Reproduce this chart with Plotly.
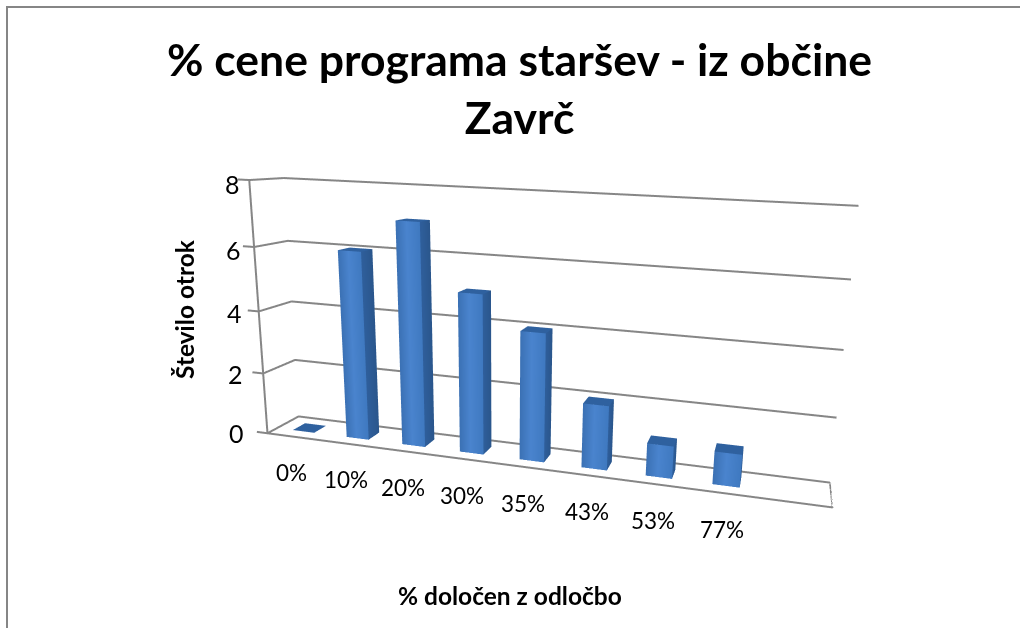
import plotly.graph_objects as go

categories = ["0%", "10%", "20%", "30%", "35%", "43%", "53%", "77%"]
counts = [0, 6, 7, 5, 4, 2, 1, 1]
value_ticks = [0, 2, 4, 6, 8]
BAR_W = 0.4
XR = (-0.25, 9.0)
YR = (0.0, 1.0)
ZR = (0.0, 8.0)
DOM0 = 0.2
eye = [0.398, -1.1469, 0.3027]
center = [0.1091, 0.1328, 0.0061]
roll = -0.0335
ay = 0.0893
az = 0.4454

GRID = "#868686"
FL, FC, FR = "#3B71B4", "#4A84CE", "#3F79C0"
SL, SR = "#2F5F9C", "#2A568C"
TOP = "#2F619F"
fig = go.Figure()

def line(xs, ys, zs):
    fig.add_trace(go.Scatter3d(x=xs, y=ys, z=zs, mode="lines", line=dict(color=GRID, width=4),
                               hoverinfo="skip", showlegend=False))

for t in value_ticks:
    line([-0.2, 0, 0, 9], [0, 0, 1, 1], [t, t, t, t])
line([0, 0], [0, 0], [0, 8])
line([0, 9, 9], [0, 0, 1], [0, 0, 0])

for i, v in enumerate(counts):
    x0, x1 = i + .5 - BAR_W / 2, i + .5 + BAR_W / 2
    xm = x0 + (x1 - x0) * 0.45
    y0, y1 = .3, .7
    if v == 0:
        vx = [x0, x1, x1, x0]; vy = [y0, y0, y1, y1]; vz = [0, 0, 0, 0]
        I = [0, 0]; J = [1, 2]; K = [2, 3]; cols = [TOP] * 4
    else:
        vx = [x0, xm, x1, x0, xm, x1, x1, x1, x1, x1, x0, x1, x1, x0]
        vy = [y0, y0, y0, y0, y0, y0, y0, y1, y1, y0, y0, y0, y1, y1]
        vz = [0, 0, 0, v, v, v, 0, 0, v, v, v, v, v, v]
        I = [0, 0, 1, 1, 6, 6, 10, 10]
        J = [1, 4, 2, 5, 7, 8, 11, 12]
        K = [4, 3, 5, 4, 8, 9, 12, 13]
        cols = [FL, FC, FR, FL, FC, FR, SL, SR, SR, SL, TOP, TOP, TOP, TOP]
    fig.add_trace(go.Mesh3d(x=vx, y=vy, z=vz, i=I, j=J, k=K, vertexcolor=cols,
                            lighting=dict(ambient=1, diffuse=0, specular=0, fresnel=0),
                            hoverinfo="skip", showscale=False))

ax_off = dict(visible=False, showgrid=False, zeroline=False, showbackground=False, showspikes=False)
scene_ann = []
for i, c in enumerate(categories):
    scene_ann.append(dict(x=i + .5, y=0, z=0, text=c, showarrow=False, xshift=-3, yshift=-36,
                          font=dict(family="Lato", size=22.5, color="#000")))
for t in value_ticks:
    scene_ann.append(dict(x=0, y=0, z=t, text=str(t), showarrow=False, xshift=-31 + 1.75 * t, yshift=-t / 2,
                          font=dict(family="Lato", size=25, color="#000")))

fig.update_layout(
    width=1020, height=628, margin=dict(l=0, r=0, t=0, b=0), paper_bgcolor="white", showlegend=False,
    scene=dict(
        domain=dict(x=[DOM0, 1], y=[0, 1]), dragmode="orbit",
        xaxis=dict(range=list(XR), **ax_off), yaxis=dict(range=list(YR), **ax_off), zaxis=dict(range=list(ZR), **ax_off),
        aspectmode="manual", aspectratio=dict(x=1, y=ay, z=az),
        camera=dict(eye=dict(x=eye[0], y=eye[1], z=eye[2]), center=dict(x=center[0], y=center[1], z=center[2]),
                    up=dict(x=roll, y=0, z=1), projection=dict(type="perspective")),
        annotations=scene_ann,
    ),
    annotations=[
        dict(xref="paper", yref="paper", x=519 / 1020, y=1 - 87 / 628, xanchor="center", yanchor="middle",
             text="<b>% cene programa staršev - iz občine<br>Zavrč</b>",
             showarrow=False, font=dict(family="Lato", size=44.5, color="#000"), align="center"),
        dict(xref="paper", yref="paper", x=185 / 1020, y=1 - 309 / 628, xanchor="center", yanchor="middle",
             text="<b>Število otrok</b>", textangle=-90,
             showarrow=False, font=dict(family="Lato", size=24.5, color="#000")),
        dict(xref="paper", yref="paper", x=510 / 1020, y=1 - 595 / 628, xanchor="center", yanchor="middle",
             text="<b>% določen z odločbo</b>",
             showarrow=False, font=dict(family="Lato", size=24.5, color="#000")),
    ],
    shapes=[dict(type="path", xref="paper", yref="paper", line=dict(color="#868686", width=2),
                 path="M %f 0 L %f %f L 1 %f" % (7 / 1020, 7 / 1020, 1 - 7 / 628, 1 - 7 / 628))],
)
fig.write_html("out.html", post_script="document.body.style.margin='0';", config=dict(displayModeBar=False))
